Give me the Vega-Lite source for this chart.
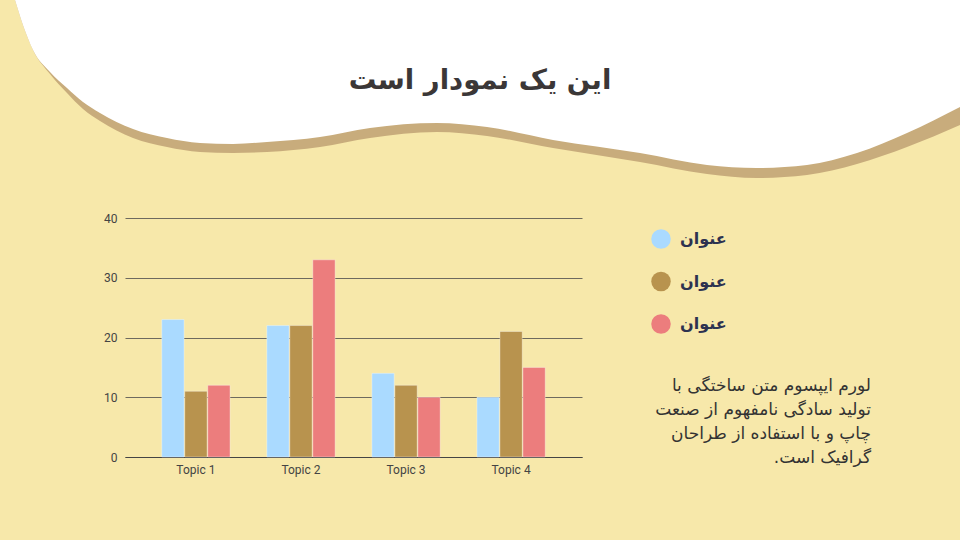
{
  "$schema": "https://vega.github.io/schema/vega-lite/v6.json",
  "background": "#F7E8AA",
  "padding": 0,
  "spacing": 32,
  "config": {"view": {"stroke": null}},
  "vconcat": [
    {
      "width": 835,
      "height": 180,
      "data": {"values": [
        {"wx": 15, "white": 0, "shadow": 0},
        {"wx": 24, "white": 28, "shadow": 28},
        {"wx": 33, "white": 50, "shadow": 50},
        {"wx": 50, "white": 72, "shadow": 74},
        {"wx": 67, "white": 88, "shadow": 93},
        {"wx": 83, "white": 102, "shadow": 109},
        {"wx": 100, "white": 113, "shadow": 121},
        {"wx": 133, "white": 129, "shadow": 138},
        {"wx": 167, "white": 138, "shadow": 147},
        {"wx": 200, "white": 143, "shadow": 152},
        {"wx": 233, "white": 144, "shadow": 153},
        {"wx": 267, "white": 142, "shadow": 152},
        {"wx": 320, "white": 137, "shadow": 147},
        {"wx": 370, "white": 128, "shadow": 138},
        {"wx": 437, "white": 123, "shadow": 132},
        {"wx": 487, "white": 127, "shadow": 136},
        {"wx": 553, "white": 140, "shadow": 148},
        {"wx": 640, "white": 153, "shadow": 162},
        {"wx": 707, "white": 165, "shadow": 174},
        {"wx": 757, "white": 168, "shadow": 178},
        {"wx": 807, "white": 165, "shadow": 175},
        {"wx": 857, "white": 153, "shadow": 164},
        {"wx": 907, "white": 133, "shadow": 147},
        {"wx": 960, "white": 107, "shadow": 125}
      ]},
      "layer": [
        {
          "mark": {"type": "area", "color": "#C8AC7C", "interpolate": "monotone", "clip": false},
          "encoding": {
            "x": {"field": "wx", "type": "quantitative", "scale": {"domain": [125, 960], "nice": false, "zero": false}, "axis": null},
            "y": {"field": "shadow", "type": "quantitative", "scale": {"domain": [0, 180], "nice": false, "reverse": true}, "axis": null},
            "y2": {"datum": 0}
          }
        },
        {
          "mark": {"type": "area", "color": "#FFFFFF", "interpolate": "monotone", "clip": false},
          "encoding": {
            "x": {"field": "wx", "type": "quantitative"},
            "y": {"field": "white", "type": "quantitative"},
            "y2": {"datum": 0}
          }
        },
        {
          "data": {"values": [{"heading": "این یک نمودار است"}]},
          "mark": {"type": "text", "font": "DejaVu Sans", "fontWeight": "bold", "fontSize": 27.5, "color": "#3B3737", "align": "center", "baseline": "alphabetic"},
          "encoding": {
            "x": {"datum": 480, "type": "quantitative"},
            "y": {"datum": 89, "type": "quantitative"},
            "text": {"field": "heading"}
          }
        }
      ]
    },
    {
      "width": 457,
      "height": 239,
      "data": {"values": [
        {"topic": "Topic 1", "series": "عنوان 1", "value": 23},
        {"topic": "Topic 1", "series": "عنوان 2", "value": 11},
        {"topic": "Topic 1", "series": "عنوان 3", "value": 12},
        {"topic": "Topic 2", "series": "عنوان 1", "value": 22},
        {"topic": "Topic 2", "series": "عنوان 2", "value": 22},
        {"topic": "Topic 2", "series": "عنوان 3", "value": 33},
        {"topic": "Topic 3", "series": "عنوان 1", "value": 14},
        {"topic": "Topic 3", "series": "عنوان 2", "value": 12},
        {"topic": "Topic 3", "series": "عنوان 3", "value": 10},
        {"topic": "Topic 4", "series": "عنوان 1", "value": 10},
        {"topic": "Topic 4", "series": "عنوان 2", "value": 21},
        {"topic": "Topic 4", "series": "عنوان 3", "value": 15}
      ]},
      "mark": {"type": "bar", "stroke": "#FFFFFF", "strokeOpacity": 0.35, "strokeWidth": 1},
      "encoding": {
        "x": {
          "field": "topic", "type": "nominal",
          "scale": {"paddingInner": 0.35, "paddingOuter": 0.35},
          "axis": {"title": null, "labelAngle": 0, "ticks": false, "domainColor": "#444444", "domainWidth": 1.2, "labelFont": "Roboto", "labelFontSize": 12, "labelColor": "#444444", "labelPadding": 7, "minExtent": 83}
        },
        "xOffset": {"field": "series", "type": "nominal", "scale": {"paddingInner": 0.03}},
        "y": {
          "field": "value", "type": "quantitative",
          "scale": {"domain": [0, 40], "nice": false},
          "axis": {"title": null, "values": [0, 10, 20, 30, 40], "domain": false, "ticks": false, "grid": true, "gridColor": "#6E6A5E", "gridWidth": 1.2, "labelFont": "Roboto", "labelFontSize": 12, "labelColor": "#444444", "labelPadding": 8, "minExtent": 125}
        },
        "color": {
          "field": "series", "type": "nominal",
          "scale": {"domain": ["عنوان 1", "عنوان 2", "عنوان 3"], "range": ["#AADAFF", "#B8934E", "#EC7D7D"]},
          "legend": {
            "orient": "none", "legendX": 526, "legendY": 229, "direction": "vertical", "padding": 0,
            "symbolType": "circle", "symbolSize": 380, "symbolStrokeWidth": 0, "symbolOpacity": 1,
            "labelExpr": "'عنوان' + '\u00a0\u00a0\u00a0\u00a0\u00a0\u00a0\u00a0\u00a0\u00a0\u00a0\u00a0\u00a0\u00a0\u00a0\u00a0\u00a0\u00a0\u00a0\u00a0\u00a0\u00a0\u00a0\u00a0\u00a0\u00a0\u00a0\u200b'", "labelFont": "DejaVu Sans", "labelFontSize": 16, "labelFontWeight": "bold", "labelColor": "#2D3250", "labelOffset": 9, "labelLimit": 400,
            "rowPadding": 22.5,
            "title": ["لورم ایپسوم متن ساختگی با", "تولید سادگی نامفهوم از صنعت", "چاپ و با استفاده از طراحان", "گرافیک است.‏"],
            "titleOrient": "bottom", "titleAnchor": "end", "titleAlign": "right", "titleBaseline": "top",
            "titleFont": "DejaVu Sans", "titleFontSize": 17, "titleFontWeight": "normal", "titleColor": "#333333",
            "titleLineHeight": 24, "titlePadding": 44, "titleLimit": 400
          }
        }
      }
    }
  ]
}
